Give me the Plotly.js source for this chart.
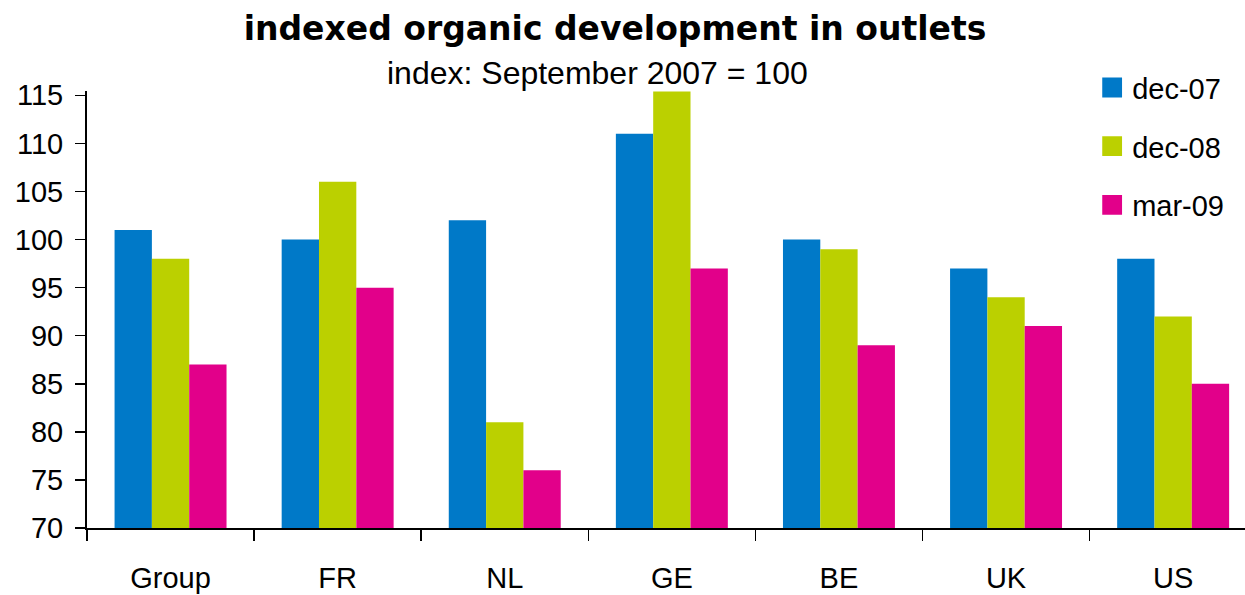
<!DOCTYPE html>
<html>
<head>
<meta charset="utf-8">
<script src="https://cdn.plot.ly/plotly-3.0.1.min.js"></script>
<style>html,body{margin:0;padding:0;background:#fff;}#chart{width:1245px;height:595px;}</style>
</head>
<body>
<div id="chart"></div>
<script>
const categories = ["Group", "FR", "NL", "GE", "BE", "UK", "US"];
const dec07 = [101, 100, 102, 111, 100, 97, 98];
const dec08 = [98, 106, 81, 115.4, 99, 94, 92];
const mar09 = [87, 95, 76, 97, 89, 91, 85];
const seriesNames = ["dec-07", "dec-08", "mar-09"];
const colors = ["#0079C8", "#BBD000", "#E2008A"];

const font = "Liberation Sans, Arial, sans-serif";
const titleFont = "DejaVu Sans, Verdana, sans-serif";
const data = [dec07, dec08, mar09].map((vals, i) => ({
  type: "bar",
  x: categories,
  y: vals,
  name: seriesNames[i],
  legendgroup: seriesNames[i],
  marker: {color: colors[i], line: {width: 0}},
  cliponaxis: false,
  hoverinfo: "x+y+name"
}));

const layout = {
  width: 1245, height: 595,
  margin: {l: 87, r: 0, t: 91, b: 67},
  paper_bgcolor: "#fff", plot_bgcolor: "#fff",
  barmode: "group",
  bargap: 0.33, bargroupgap: 0,
  title: {text: "<b>indexed organic development in outlets</b>", font: {family: titleFont, size: 33, color: "#000"}, x: 0.494, xanchor: "center", y: 0.953, yanchor: "middle"},
  annotations: [{text: "index: September 2007 = 100", xref: "paper", yref: "paper", x: 0.441, y: 1.042, xanchor: "center", yanchor: "middle", showarrow: false, font: {family: font, size: 32, color: "#000"}}],
  xaxis: {range: [-0.5, 6.43], showline: true, linecolor: "#000", linewidth: 2, ticks: "outside", tickson: "boundaries", ticklen: 11, tickwidth: 1.5, tickcolor: "#000", tickfont: {family: font, size: 29, color: "#000"}, ticklabelstandoff: 23, showgrid: false, zeroline: false, fixedrange: true},
  yaxis: {range: [70, 115.45], tickvals: [70, 75, 80, 85, 90, 95, 100, 105, 110, 115], showline: true, linecolor: "#000", linewidth: 2, ticks: "outside", ticklen: 10, tickwidth: 1.5, tickcolor: "#000", tickfont: {family: font, size: 29, color: "#000"}, ticklabelstandoff: 6, showgrid: false, zeroline: false, fixedrange: true},
  legend: {x: 0.868, y: 1.066, xanchor: "left", yanchor: "top", font: {family: font, size: 29, color: "#000"}, traceorder: "grouped", tracegroupgap: 18, bgcolor: "rgba(0,0,0,0)", itemwidth: 30}
};
Plotly.newPlot("chart", data, layout, {displayModeBar: false, staticPlot: true}).then(gd => {
  gd.querySelectorAll(".legend .legendpoints path").forEach(p => {
    const t = p.getAttribute("transform") || "";
    p.setAttribute("transform", t + " scale(1.65)");
  });
});
</script>
</body>
</html>
